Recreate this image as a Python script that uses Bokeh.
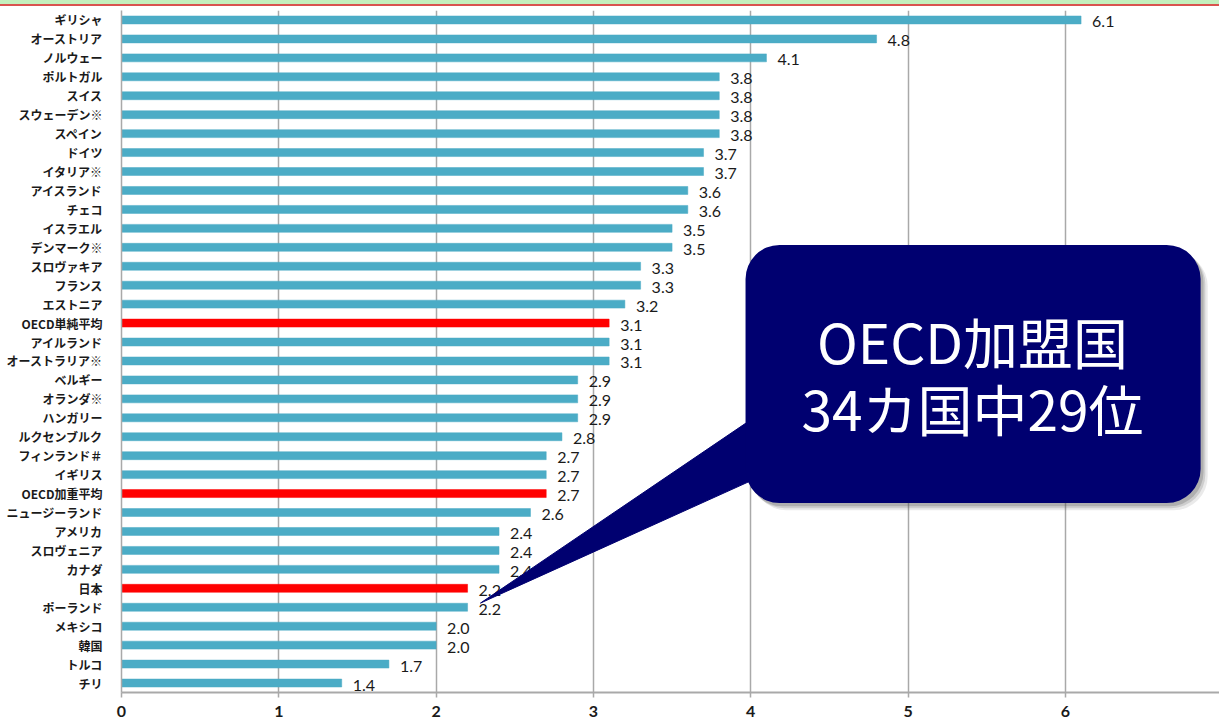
from bokeh.plotting import figure
from bokeh.models import ColumnDataSource, FactorRange, BoxAnnotation, PolyAnnotation, Label, Div, FixedTicker
from bokeh.layouts import column
from bokeh.core.properties import value
from bokeh.embed import file_html
from bokeh.resources import INLINE

countries = ["ギリシャ", "オーストリア", "ノルウェー", "ポルトガル", "スイス", "スウェーデン※",
             "スペイン", "ドイツ", "イタリア※", "アイスランド", "チェコ", "イスラエル",
             "デンマーク※", "スロヴァキア", "フランス", "エストニア", "OECD単純平均",
             "アイルランド", "オーストラリア※", "ベルギー", "オランダ※", "ハンガリー",
             "ルクセンブルク", "フィンランド＃", "イギリス", "OECD加重平均", "ニュージーランド",
             "アメリカ", "スロヴェニア", "カナダ", "日本", "ポーランド", "メキシコ", "韓国",
             "トルコ", "チリ"]
values = [6.1, 4.8, 4.1, 3.8, 3.8, 3.8, 3.8, 3.7, 3.7, 3.6, 3.6, 3.5, 3.5, 3.3, 3.3,
          3.2, 3.1, 3.1, 3.1, 2.9, 2.9, 2.9, 2.8, 2.7, 2.7, 2.7, 2.6, 2.4, 2.4, 2.4,
          2.2, 2.2, 2.0, 2.0, 1.7, 1.4]
highlight = ["OECD単純平均", "OECD加重平均", "日本"]
x_ticks = [0, 1, 2, 3, 4, 5, 6]
callout_lines = ["OECD加盟国", "34カ国中29位"]

BLUE = "#4bacc6"
RED = "#ff0000"
NAVY = "#000070"
GRID = "#a9a9a9"

colors = [RED if c in highlight else BLUE for c in countries]
labels = ["%.1f" % v for v in values]
src = ColumnDataSource(dict(country=countries, value=values, color=colors, label=labels))

p = figure(width=1219, height=715, output_backend="svg", toolbar_location=None,
           y_range=FactorRange(factors=countries[::-1]), x_range=(0, 6.98),
           min_border_left=121, min_border_right=0, min_border_top=4, min_border_bottom=29)
p.outline_line_color = None
p.background_fill_color = "white"
p.border_fill_color = "white"

p.hbar(y="country", right="value", left=0, height=0.42, source=src,
       fill_color="color", line_color="color", line_alpha=0.5)

p.text(x="value", y="country", text="label", source=src, x_offset=11, y_offset=2,
       text_align="left", text_baseline="middle", text_font=value("Lato"),
       text_font_size="16px", text_color="#1a1a1a")

# axes
p.xaxis.ticker = FixedTicker(ticks=x_ticks)
p.xaxis.axis_line_color = GRID
p.xaxis.axis_line_width = 2
p.xaxis.major_tick_line_color = GRID
p.xaxis.major_tick_line_width = 1.5
p.xaxis.major_tick_out = 5
p.xaxis.major_tick_in = 0
p.xaxis.minor_tick_line_color = None
p.xaxis.major_label_text_font = "Lato"
p.xaxis.major_label_text_font_style = "bold"
p.xaxis.major_label_text_font_size = "16px"
p.xaxis.major_label_text_color = "#1a1a1a"
p.xaxis.major_label_standoff = 8

p.yaxis.axis_line_color = GRID
p.yaxis.axis_line_width = 1.5
p.yaxis.major_tick_line_color = None
p.yaxis.major_label_text_font = "Noto Sans CJK JP"
p.yaxis.major_label_text_font_size = "12px"
p.yaxis.major_label_text_font_style = "bold"
p.yaxis.major_label_text_color = "#1a1a1a"
p.yaxis.major_label_standoff = 13

p.xgrid.grid_line_color = GRID
p.xgrid.grid_line_width = 1.5
p.xgrid.ticker = FixedTicker(ticks=x_ticks)
p.ygrid.grid_line_color = None

# callout (speech bubble) -- decoration placed in plot coordinates
bx0, bx1, by0, by1 = 3.967, 6.86, 10.0, 23.62
for dx, dy, a in [(0.045, -0.38, 0.12), (0.03, -0.27, 0.18), (0.018, -0.17, 0.25)]:
    p.add_layout(BoxAnnotation(left=bx0 + dx, right=bx1 + dx, bottom=by0 + dy, top=by1 + dy,
                               fill_color="#555555", fill_alpha=a, line_color=None,
                               border_radius=34, level="overlay"))
p.add_layout(PolyAnnotation(xs=[4.25, 4.25, 2.282], ys=[15.80, 12.11, 4.72],
                            fill_color=NAVY, fill_alpha=1, line_color=NAVY, line_alpha=1,
                            level="overlay"))
p.add_layout(BoxAnnotation(left=bx0, right=bx1, bottom=by0, top=by1,
                           fill_color=NAVY, fill_alpha=1, line_color=None,
                           border_radius=34, level="overlay"))
for txt, yy in zip(callout_lines, [18.60, 15.07]):
    p.add_layout(Label(x=5.41, y=yy, text=txt, text_align="center", text_baseline="middle",
                       text_font="Noto Sans CJK JP", text_font_size="55px",
                       text_color="white", level="overlay"))

green = Div(width=1219, height=4, styles={"background-color": "#c4efbd"}, margin=0)
red = Div(width=1219, height=2, styles={"background-color": "#d9534f"}, margin=0)
layout = column(green, red, p, spacing=0)

open("out.html", "w").write(file_html(layout, INLINE))
